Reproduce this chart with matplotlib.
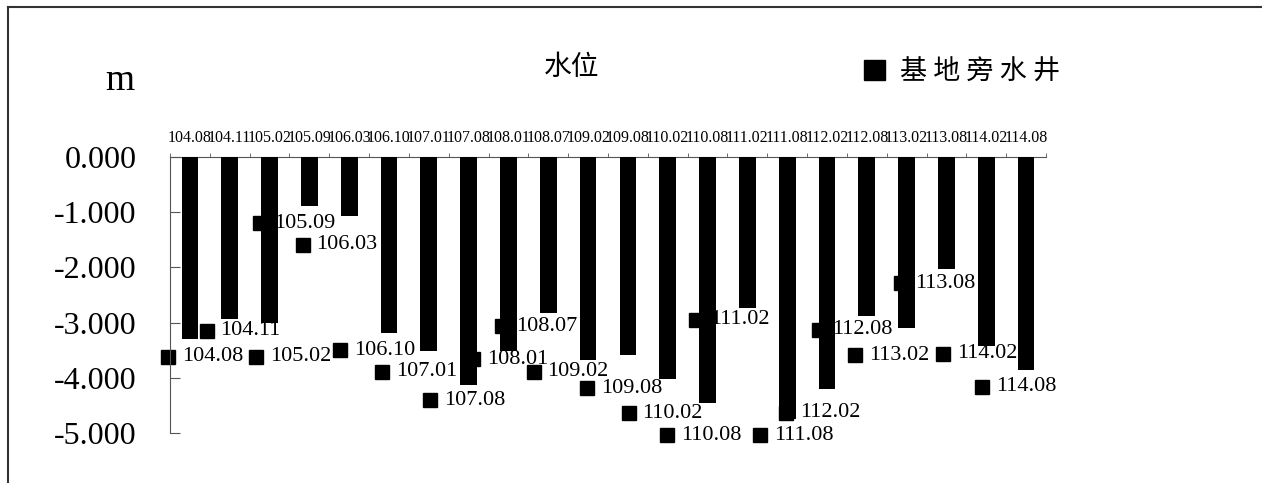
import matplotlib
matplotlib.use('Agg')
import matplotlib.pyplot as plt
from matplotlib.lines import Line2D
from matplotlib.patches import Rectangle

plt.rcParams['font.family'] = ['Liberation Serif', 'Noto Sans CJK TC', 'DejaVu Sans']

# survey dates (ROC year.month)
dates = ['104.08', '104.11', '105.02', '105.09', '106.03', '106.10', '107.01',
         '107.08', '108.01', '108.07', '109.02', '109.08', '110.02', '110.08',
         '111.02', '111.08', '112.02', '112.08', '113.02', '113.08', '114.02', '114.08']
# water level below ground (m)
level = [-3.30, -2.94, -3.00, -0.88, -1.06, -3.18, -3.51,
         -4.13, -3.51, -2.82, -3.67, -3.58, -4.03, -4.46,
         -2.73, -4.74, -4.21, -2.88, -3.09, -2.03, -3.42, -3.85]
series_name = '基地旁水井'
yticks = [0, -1, -2, -3, -4, -5]

# where the data-label callouts sit (as drawn in the original)
label_x = [-0.54, 0.42, 1.66, 1.76, 2.83, 3.77, 4.82,
           6.03, 7.12, 7.85, 8.63, 9.97, 11.02, 11.99,
           12.72, 14.32, 14.98, 15.79, 16.71, 17.87, 18.91, 19.89]
label_y = [-3.62, -3.15, -3.62, -1.20, -1.59, -3.50, -3.89,
           -4.41, -3.66, -3.07, -3.89, -4.19, -4.64, -5.04,
           -2.95, -5.04, -4.63, -3.13, -3.59, -2.29, -3.56, -4.16]

W, H = 1262, 483
fig = plt.figure(figsize=(W / 100, H / 100), dpi=100)
ax = fig.add_axes([170 / W, 1 - 433 / H, 876 / W, 276 / H])

x = list(range(len(dates)))
ax.bar(x, level, width=0.42, color='black', zorder=3)

ax.set_xlim(-0.5, len(dates) - 0.5)
ax.set_ylim(-5, 0)
ax.spines['right'].set_visible(False)
ax.spines['bottom'].set_visible(False)
ax.spines['left'].set_color('#555555')
ax.spines['top'].set_color('#555555')

ax.xaxis.tick_top()
ax.set_xticks(x)
ax.set_xticklabels(dates, fontsize=11.5)
ax.set_xticks([i - 0.5 for i in range(len(dates) + 1)], minor=True)
ax.tick_params(axis='x', which='major', length=0, pad=8)
ax.tick_params(axis='x', which='minor', length=3, direction='out', color='#555555')

ax.set_yticks(yticks)
ax.set_yticklabels(['%.3f' % v for v in yticks], fontsize=23)
ax.tick_params(axis='y', direction='in', length=7, pad=24, color='#555555')

for xi, yi, name in zip(label_x, label_y, dates):
    ax.plot(xi, yi, marker='s', markersize=9.5, color='black', clip_on=False, zorder=2)
    ax.annotate(name, (xi, yi), xytext=(10, 0), textcoords='offset points',
                ha='left', va='center', fontsize=16, annotation_clip=False, zorder=4)

# title, unit and legend
fig.text(572 / W, 1 - 67 / H, '水位', fontsize=20, ha='center', va='center',
         family=['Noto Sans CJK TC'])
fig.text(120 / W, 1 - 81 / H, 'm', fontsize=27, ha='center', va='center')
fig.add_artist(Rectangle((864 / W, 1 - 80 / H), 21 / W, 20 / H,
                         transform=fig.transFigure, color='black'))
fig.text(900 / W, 1 - 72 / H, ' '.join(series_name), fontsize=19.5, ha='left', va='center',
         family=['Noto Sans CJK TC', 'DejaVu Sans'])

# chart area frame
fig.add_artist(Line2D([7.5 / W, 7.5 / W], [0, 1 - 6.5 / H], transform=fig.transFigure,
                      color='#333333', linewidth=1.5))
fig.add_artist(Line2D([7.5 / W, 1], [1 - 6.5 / H, 1 - 6.5 / H], transform=fig.transFigure,
                      color='#333333', linewidth=1.5))

fig.savefig('out.png', dpi=100)
